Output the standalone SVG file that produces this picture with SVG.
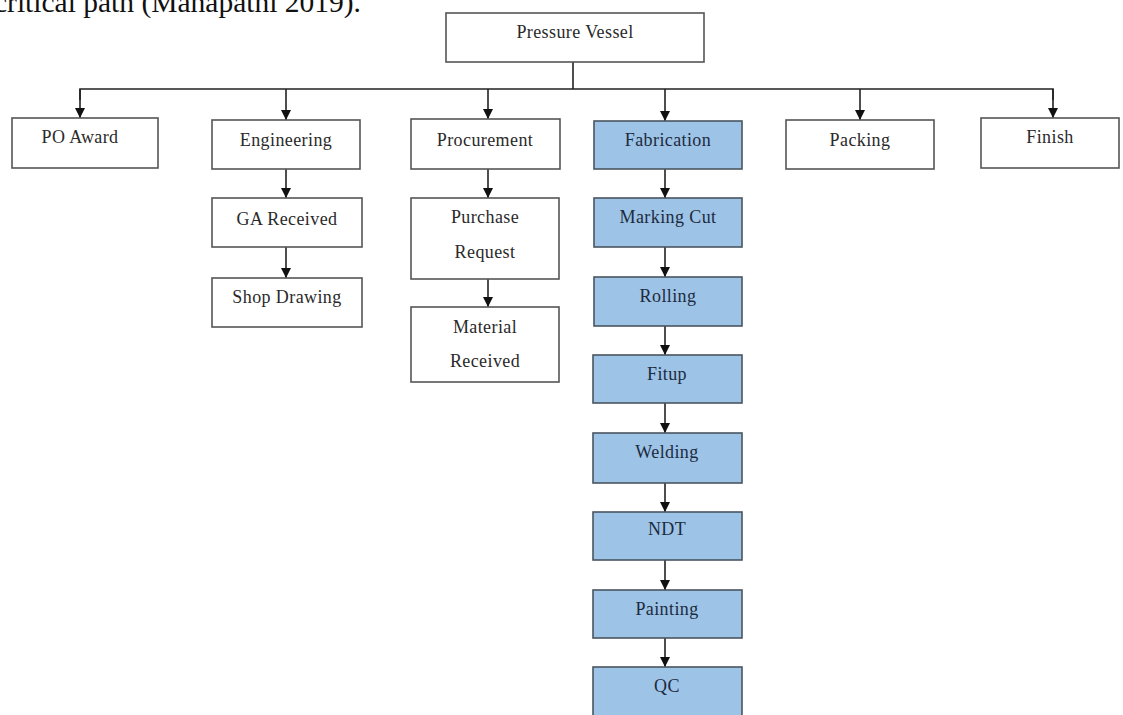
<svg xmlns="http://www.w3.org/2000/svg" width="1123" height="715" viewBox="0 0 1123 715">
<style>
.box{fill:#ffffff;stroke:#555555;stroke-width:1.6}
.hl{fill:#9dc3e6;stroke:#4a5560;stroke-width:1.6}
.t{font-family:"Liberation Serif",serif;font-size:18px;fill:#2a2a2a;text-anchor:middle;letter-spacing:0.4px}
.th{font-family:"Liberation Serif",serif;font-size:18px;fill:#1c2b40;text-anchor:middle;letter-spacing:0.4px}
.c{fill:none;stroke:#222222;stroke-width:1.6}
.ca{fill:none;stroke:#222222;stroke-width:1.6;marker-end:url(#ah)}
</style>
<defs>
<marker id="ah" markerUnits="userSpaceOnUse" markerWidth="11" markerHeight="11" refX="10" refY="5.5" orient="auto" viewBox="0 0 11 11">
<path d="M0,0.5 L10,5.5 L0,10.5 Z" fill="#111111"/>
</marker>
</defs>
<rect width="1123" height="715" fill="#ffffff"/>
<text x="-6" y="12" font-family="Liberation Serif, serif" font-size="29.5" fill="#111111">critical path (Mahapatni 2019).</text>

<g id="connectors">
<path class="c" d="M573,62 V89"/>
<path class="c" d="M80,100 V89 H1053 V100"/>
<path class="ca" d="M80,89 V118"/>
<path class="ca" d="M286,89 V120"/>
<path class="ca" d="M488,89 V119"/>
<path class="ca" d="M665,89 V121"/>
<path class="ca" d="M860,89 V120"/>
<path class="ca" d="M1053,89 V118"/>
<path class="ca" d="M286,169 V198"/>
<path class="ca" d="M286,247 V278"/>
<path class="ca" d="M488,169 V198"/>
<path class="ca" d="M488,279 V307"/>
<path class="ca" d="M665,169 V198"/>
<path class="ca" d="M665,247 V277"/>
<path class="ca" d="M665,326 V355"/>
<path class="ca" d="M665,403 V433"/>
<path class="ca" d="M665,483 V512"/>
<path class="ca" d="M665,560 V590"/>
<path class="ca" d="M665,638 V667"/>
</g>

<g id="pressure-vessel"><rect class="box" x="446" y="13" width="258" height="49"/><text class="t" x="575" y="38">Pressure Vessel</text></g>
<g id="po-award"><rect class="box" x="12" y="118" width="146" height="50"/><text class="t" x="80" y="143">PO Award</text></g>
<g id="engineering"><rect class="box" x="212" y="120" width="148" height="49"/><text class="t" x="286" y="146">Engineering</text></g>
<g id="procurement"><rect class="box" x="411" y="119" width="149" height="50"/><text class="t" x="485" y="146">Procurement</text></g>
<g id="fabrication"><rect class="hl" x="594" y="121" width="148" height="48"/><text class="th" x="668" y="146">Fabrication</text></g>
<g id="packing"><rect class="box" x="786" y="120" width="148" height="49"/><text class="t" x="860" y="146">Packing</text></g>
<g id="finish"><rect class="box" x="981" y="118" width="138" height="50"/><text class="t" x="1050" y="143">Finish</text></g>

<g id="ga-received"><rect class="box" x="212" y="198" width="150" height="49"/><text class="t" x="287" y="225">GA Received</text></g>
<g id="shop-drawing"><rect class="box" x="212" y="278" width="150" height="49"/><text class="t" x="287" y="303">Shop Drawing</text></g>
<g id="purchase-request"><rect class="box" x="411" y="198" width="148" height="81"/><text class="t" x="485" y="223">Purchase</text><text class="t" x="485" y="258">Request</text></g>
<g id="material-received"><rect class="box" x="411" y="307" width="148" height="75"/><text class="t" x="485" y="333">Material</text><text class="t" x="485" y="367">Received</text></g>

<g id="marking-cut"><rect class="hl" x="594" y="198" width="148" height="49"/><text class="th" x="668" y="223">Marking Cut</text></g>
<g id="rolling"><rect class="hl" x="594" y="277" width="148" height="49"/><text class="th" x="668" y="302">Rolling</text></g>
<g id="fitup"><rect class="hl" x="593" y="355" width="149" height="48"/><text class="th" x="667" y="380">Fitup</text></g>
<g id="welding"><rect class="hl" x="593" y="433" width="149" height="50"/><text class="th" x="667" y="458">Welding</text></g>
<g id="ndt"><rect class="hl" x="593" y="512" width="149" height="48"/><text class="th" x="667" y="535">NDT</text></g>
<g id="painting"><rect class="hl" x="593" y="590" width="149" height="48"/><text class="th" x="667" y="615">Painting</text></g>
<g id="qc"><rect class="hl" x="593" y="667" width="149" height="52"/><text class="th" x="667" y="692">QC</text></g>
</svg>
